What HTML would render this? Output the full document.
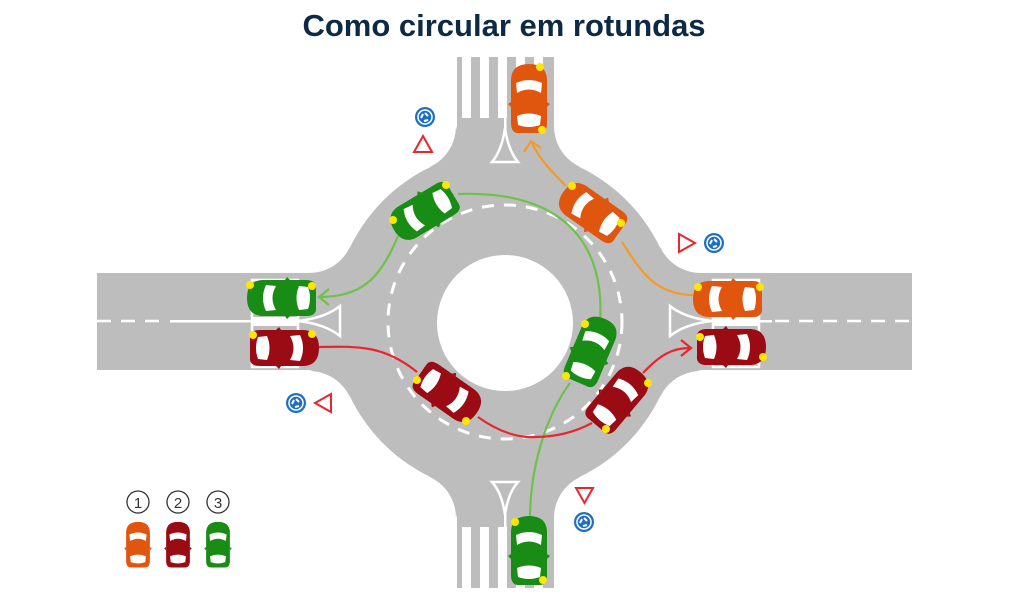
<!DOCTYPE html>
<html><head><meta charset="utf-8"><style>
html,body{margin:0;padding:0;background:#fff;}
svg{display:block;}
</style></head><body>
<svg width="1023" height="606" viewBox="0 0 1023 606" xmlns="http://www.w3.org/2000/svg">
<defs>
<g id="car">
  <path d="M-34,-9 Q-35,-18 -24,-18 L20,-18 Q35,-17 35,0 Q35,17 20,18 L-24,18 Q-35,18 -34,9 Z"/>
  <path d="M-8,-18 l3,-3 l2,3 Z M-8,18 l3,3 l2,-3 Z"/>
  <path d="M6,-12 Q13,0 6,12 L16,13 Q22,0 16,-13 Z" fill="#fff"/>
  <path d="M-17,-12 Q-12,0 -17,12 L-26,11 Q-30,0 -26,-11 Z" fill="#fff"/>
</g>
<g id="corner" fill="#bdbdbd">
  <path d="M-49,-196 A45,45 0 0 1 -74.5,-155.4 L0,0 Z"/>
  <path d="M-196,-49 A45,45 0 0 0 -155.4,-74.5 L0,0 Z"/>
</g>
<g id="sign">
  <circle r="10" fill="#1f6fc0"/>
  <circle r="7" fill="none" stroke="#fff" stroke-width="1.5"/>
  <path d="M0,-4 L3,-1 M3,3 L-1,4 M-4,1 L-2,-3" stroke="#fff" stroke-width="2"/>
</g>
</defs>

<text x="504" y="36" text-anchor="middle" font-family="Liberation Sans, sans-serif" font-weight="bold" font-size="31" fill="#0d2a44">Como circular em rotundas</text>

<!-- roads -->
<g fill="#bdbdbd">
  <rect x="97" y="273" width="815" height="97"/>
  <rect x="457" y="57" width="97" height="531"/>
  <circle cx="505" cy="322" r="172"/>
</g>
<g transform="translate(505,322)">
  <use href="#corner"/>
  <use href="#corner" transform="scale(-1,1)"/>
  <use href="#corner" transform="scale(1,-1)"/>
  <use href="#corner" transform="scale(-1,-1)"/>
</g>
<circle cx="505" cy="323" r="68" fill="#fff"/>
<circle cx="505" cy="322" r="117" fill="none" stroke="#fff" stroke-width="3" stroke-dasharray="12 10"/>

<!-- markings -->
<g fill="#fff">
  <rect x="462" y="57" width="9" height="61"/><rect x="480" y="57" width="9" height="61"/><rect x="498" y="57" width="9" height="61"/><rect x="516" y="57" width="9" height="61"/><rect x="534" y="57" width="9" height="61"/>
  <rect x="462" y="527" width="9" height="61"/><rect x="480" y="527" width="9" height="61"/><rect x="498" y="527" width="9" height="61"/><rect x="516" y="527" width="9" height="61"/><rect x="534" y="527" width="9" height="61"/>
  <rect x="504" y="57" width="2.5" height="75"/>
  <rect x="504" y="510" width="2.5" height="78"/>
  <rect x="170" y="320" width="130" height="2.5"/>
  <rect x="252" y="317" width="46" height="9"/>
  <rect x="712" y="320" width="60" height="2.5"/>
  <rect x="713" y="317" width="46" height="9"/>
</g>
<g stroke="#fff" stroke-width="2.5" fill="none">
  <line x1="97" y1="321" x2="168" y2="321" stroke-dasharray="14 10"/>
  <line x1="775" y1="321" x2="912" y2="321" stroke-dasharray="14 10"/>
  <rect x="252" y="280" width="46" height="87"/>
  <rect x="713" y="280" width="46" height="87"/>
  <path d="M298,321 Q325,318 340,306 L340,336 Q325,324 298,321"/>
  <path d="M712,321 Q685,318 670,306 L670,336 Q685,324 712,321"/>
  <path d="M505,128 Q502,150 492,162 L518,162 Q508,150 505,128"/>
  <path d="M505,515 Q502,493 492,482 L518,482 Q508,493 505,515"/>
</g>

<!-- paths -->
<g fill="none" stroke-width="2.2">
  <path d="M693,295 C655,295 640,270 622,242" stroke="#f39a2a"/>
  <path d="M566,186 C552,172 540,160 532,143" stroke="#f39a2a"/>
  <path d="M524,152 L531,141 L541,148" stroke="#f39a2a"/>
  <path d="M530,520 C530,460 550,410 570,383" stroke="#6cc24a"/>
  <path d="M600,322 C605,250 570,190 458,194" stroke="#6cc24a"/>
  <path d="M398,236 C380,280 360,297 320,297" stroke="#6cc24a"/>
  <path d="M329,289 L319,297 L329,305" stroke="#6cc24a"/>
  <path d="M318,347 C360,346 385,346 417,372" stroke="#e8262d"/>
  <path d="M478,417 C500,433 520,438 535,437 C555,437 575,432 592,423" stroke="#e8262d"/>
  <path d="M643,373 C660,355 672,348 690,348" stroke="#e8262d"/>
  <path d="M681,340 L691,348 L681,356" stroke="#e8262d"/>
</g>

<!-- cars -->
<use href="#car" fill="#e0560f" transform="translate(529,99) rotate(-90)"/>
<use href="#car" fill="#e0560f" transform="translate(592,212) rotate(-145)"/>
<use href="#car" fill="#e0560f" transform="translate(728,299) rotate(180)"/>
<use href="#car" fill="#188c14" transform="translate(424,212) rotate(149)"/>
<use href="#car" fill="#188c14" transform="translate(282,298) rotate(180)"/>
<use href="#car" fill="#188c14" transform="translate(591,351) rotate(-67)"/>
<use href="#car" fill="#188c14" transform="translate(529,551) rotate(-90)"/>
<use href="#car" fill="#9a0b14" transform="translate(284,348)"/>
<use href="#car" fill="#9a0b14" transform="translate(448,393) rotate(35)"/>
<use href="#car" fill="#9a0b14" transform="translate(618,399) rotate(-50)"/>
<use href="#car" fill="#9a0b14" transform="translate(731,347)"/>

<g fill="#ffe600">
  <circle cx="540" cy="67" r="4"/><circle cx="542" cy="130" r="4"/>
  <circle cx="572" cy="186" r="4"/><circle cx="621" cy="223" r="4"/>
  <circle cx="698" cy="287" r="4"/><circle cx="760" cy="287" r="4"/>
  <circle cx="446" cy="185" r="4"/><circle cx="393" cy="220" r="4"/>
  <circle cx="250" cy="285" r="4"/><circle cx="312" cy="286" r="4"/>
  <circle cx="585" cy="324" r="4"/><circle cx="566" cy="376" r="4"/>
  <circle cx="515" cy="522" r="4"/><circle cx="543" cy="580" r="4"/>
  <circle cx="253" cy="335" r="4"/><circle cx="312" cy="334" r="4"/>
  <circle cx="417" cy="380" r="4"/><circle cx="466" cy="421" r="4"/>
  <circle cx="648" cy="383" r="4"/><circle cx="606" cy="429" r="4"/>
  <circle cx="700" cy="337" r="4"/><circle cx="763" cy="357" r="4"/>
</g>

<!-- signs -->
<use href="#sign" transform="translate(425,117)"/>
<use href="#sign" transform="translate(714,243)"/>
<use href="#sign" transform="translate(296,403)"/>
<use href="#sign" transform="translate(584,522)"/>
<g fill="none" stroke="#e8262d" stroke-width="2">
  <path d="M423,136 L432,152 L414,152 Z"/>
  <path d="M679,234 L695,243 L679,252 Z"/>
  <path d="M331,394 L315,403 L331,412 Z"/>
  <path d="M576,488 L593,488 L584.5,503 Z"/>
</g>

<!-- legend -->
<g fill="none" stroke="#333" stroke-width="1.3">
  <circle cx="138" cy="502" r="11"/><circle cx="178" cy="502" r="11"/><circle cx="218" cy="502" r="11"/>
</g>
<g font-family="Liberation Sans, sans-serif" font-size="15" text-anchor="middle" fill="#333">
  <text x="138" y="508">1</text><text x="178" y="508">2</text><text x="218" y="508">3</text>
</g>
<use href="#car" fill="#e0560f" transform="translate(138,545) rotate(-90) scale(0.66,0.66)"/>
<use href="#car" fill="#9a0b14" transform="translate(178,545) rotate(-90) scale(0.66,0.66)"/>
<use href="#car" fill="#188c14" transform="translate(218,545) rotate(-90) scale(0.66,0.66)"/>
</svg>
</body></html>
